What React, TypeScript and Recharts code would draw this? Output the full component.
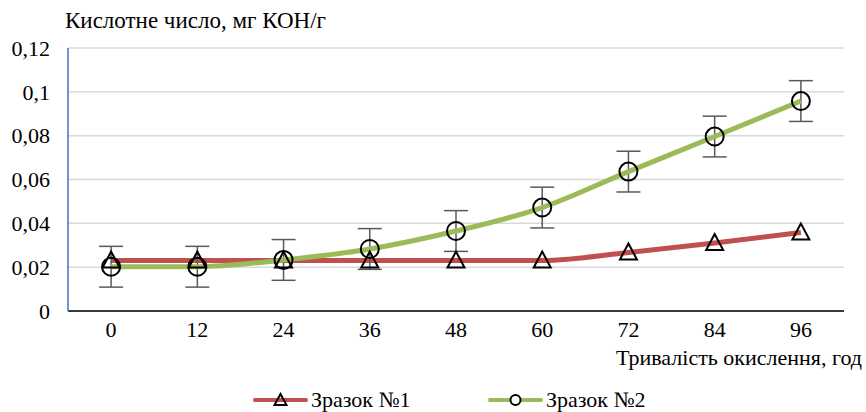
import React from "react";
import { LineChart, Line, XAxis, YAxis, CartesianGrid, ErrorBar } from "recharts";

const hours = [0, 12, 24, 36, 48, 60, 72, 84, 96];
const sample1 = [0.023, 0.023, 0.023, 0.023, 0.023, 0.023, 0.0267, 0.031, 0.0358];
const sample2 = [0.0202, 0.0202, 0.0233, 0.0283, 0.0365, 0.0472, 0.0636, 0.0796, 0.0958];
const sample2Err = [0.0093, 0.0093, 0.0093, 0.0093, 0.0093, 0.0093, 0.0093, 0.0093, 0.0093];
const yTicks = [0, 0.02, 0.04, 0.06, 0.08, 0.1, 0.12];

const data = hours.map((t, i) => ({
  t,
  s1: sample1[i],
  s2: sample2[i],
  err: sample2Err[i],
}));

const FONT = "Liberation Serif, Times New Roman, DejaVu Serif, serif";
const RED = "#C0504D";
const GREEN = "#9BBB59";
const FS = 22;

const fmt = (v: number) => String(v).replace(".", ",");

function Triangle(props: any) {
  const { cx, cy, index } = props;
  if (cx == null || cy == null) return <g key={index} />;
  return (
    <polygon
      key={index}
      points={`${cx},${cy - 9} ${cx - 8.5},${cy + 7} ${cx + 8.5},${cy + 7}`}
      fill="none"
      stroke="#000"
      strokeWidth={2}
    />
  );
}

function LegendItem({ color, label, marker, left }: { color: string; label: string; marker: "tri" | "circle"; left: number }) {
  return (
    <div style={{ position: "absolute", left, top: 387, display: "flex", alignItems: "center", gap: 3 }}>
      <svg width={55} height={16}>
        <line x1={2} y1={8} x2={53} y2={8} stroke={color} strokeWidth={4} strokeLinecap="round" />
        {marker === "tri" ? (
          <polygon points="27.5,2 21.5,13 33.5,13" fill="none" stroke="#000" strokeWidth={2} />
        ) : (
          <circle cx={27.5} cy={8} r={5} fill="#fff" stroke="#000" strokeWidth={2} />
        )}
      </svg>
      <span>{label}</span>
    </div>
  );
}

export default function App() {
  return (
    <div
      style={{
        position: "absolute",
        left: 0,
        top: 0,
        width: 866,
        height: 412,
        background: "#fff",
        fontFamily: FONT,
        fontSize: FS,
        lineHeight: "26px",
        color: "#000",
      }}
    >
      <LineChart
        width={866}
        height={412}
        data={data}
        margin={{ top: 48, right: 22, left: 8, bottom: 71 }}
      >
        <CartesianGrid vertical={false} stroke="#D9D9D9" strokeWidth={1.5} />
        <XAxis
          dataKey="t"
          type="number"
          domain={[-6, 102]}
          ticks={hours}
          tickLine={false}
          tickSize={0}
          tickMargin={10}
          height={30}
          stroke="#000"
          strokeWidth={1.5}
          tick={{ fill: "#000", fontSize: FS, fontFamily: FONT }}
        />
        <YAxis
          domain={[0, 0.12]}
          ticks={yTicks}
          tickFormatter={fmt}
          width={60}
          tickLine={false}
          tickSize={0}
          tickMargin={18}
          stroke="#4472C4"
          strokeWidth={1.5}
          tick={{ fill: "#000", fontSize: FS, fontFamily: FONT }}
        />
        <Line
          type="monotone"
          dataKey="s1"
          stroke={RED}
          strokeWidth={5}
          dot={Triangle}
          activeDot={false}
          isAnimationActive={false}
        />
        <Line
          type="monotone"
          dataKey="s2"
          stroke={GREEN}
          strokeWidth={5}
          dot={{ r: 9, fill: "none", stroke: "#000", strokeWidth: 2 }}
          activeDot={false}
          isAnimationActive={false}
        >
          <ErrorBar dataKey="err" direction="y" width={12} stroke="#595959" strokeWidth={1.5} />
        </Line>
      </LineChart>

      <div style={{ position: "absolute", left: 65, top: 8, fontSize: 23, whiteSpace: "nowrap" }}>
        Кислотне число, мг КОН/г
      </div>
      <div style={{ position: "absolute", right: 4, top: 347, lineHeight: "22px", whiteSpace: "nowrap" }}>
        Тривалість окислення, год
      </div>
      <LegendItem color={RED} label="Зразок №1" marker="tri" left={253} />
      <LegendItem color={GREEN} label="Зразок №2" marker="circle" left={488} />
    </div>
  );
}
